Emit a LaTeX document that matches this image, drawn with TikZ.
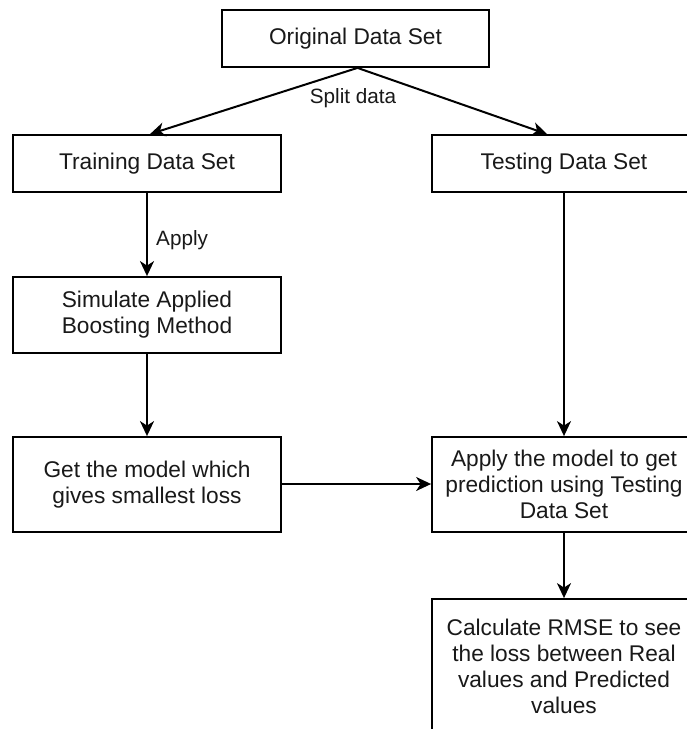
\documentclass[tikz,border=0pt]{standalone}
\usepackage{fontspec}
\setmainfont{Liberation Sans}
\usetikzlibrary{arrows.meta,calc}
\tikzset{
  box/.style={draw=black, line width=1.8pt, rectangle, align=center, inner sep=2pt,
    font=\fontsize{22.7}{26}\selectfont, text=black!90},
  lbl/.style={font=\fontsize{20.7}{24}\selectfont, text=black!90, inner sep=1pt},
  conn/.style={draw=black, line width=2pt, -{Stealth[length=15pt,width=14pt,inset=4.5pt]}}
}
\begin{document}
\begin{tikzpicture}[x=1pt,y=-1pt]
\useasboundingbox (0,0) rectangle (687,729);
\clip (0,0) rectangle (687,729);
\fill[white] (0,0) rectangle (687,729);
\node[box, minimum width=267pt, minimum height=57pt] (orig) at (355.5,38.5) {Original Data Set};
\node[box, minimum width=268pt, minimum height=57pt] (train) at (147,163.5) {Training Data Set};
\node[box, minimum width=264pt, minimum height=57pt] (test) at (564,163.5) {Testing Data Set};
\node[box, minimum width=268pt, minimum height=76pt] (sim) at (147,315) {Simulate Applied\\Boosting Method};
\node[box, minimum width=268pt, minimum height=95pt] (getm) at (147,484.5) {Get the model which\\gives smallest loss};
\node[box, minimum width=264pt, minimum height=95pt] (applym) at (564,484.5) {Apply the model to get\\prediction using Testing\\Data Set};
\node[box, minimum width=264pt, minimum height=134pt] (rmse) at (564,666) {Calculate RMSE to see\\the loss between Real\\values and Predicted\\values};
\coordinate (split) at ([xshift=2pt]orig.south);
\draw[conn] (split) -- ([xshift=3pt]train.north);
\draw[conn] (split) -- ([xshift=-17pt]test.north);
\node[lbl] (splitlbl) at (353,98) {Split data};
\draw[conn] (train.south) -- (sim.north);
\node[lbl, anchor=west] (applylbl) at (155,240) {Apply};
\draw[conn] (sim.south) -- (getm.north);
\draw[conn] (test.south) -- (applym.north);
\draw[conn] ([yshift=0.5pt]getm.east) -- ([yshift=0.5pt]applym.west);
\draw[conn] (applym.south) -- (rmse.north);
\end{tikzpicture}
\end{document}
